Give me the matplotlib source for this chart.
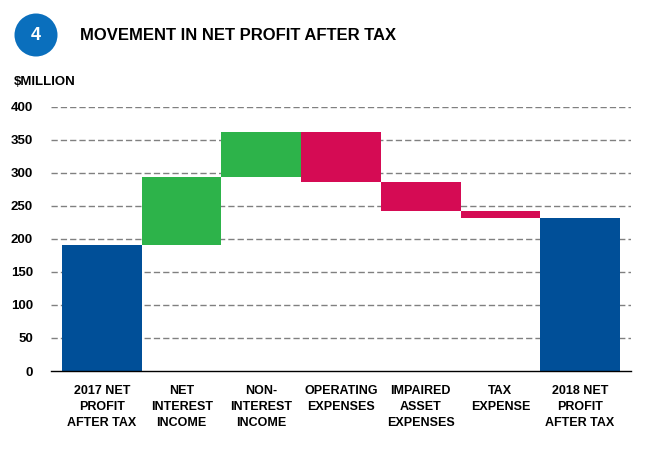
import matplotlib.pyplot as plt
from matplotlib.patches import Ellipse

plt.rcParams["font.family"] = ["Liberation Sans Narrow", "Liberation Sans", "DejaVu Sans"]
plt.rcParams["font.weight"] = "bold"

# Data ($ million)
categories = [
    "2017 NET\nPROFIT\nAFTER TAX",
    "NET\nINTEREST\nINCOME",
    "NON-\nINTEREST\nINCOME",
    "OPERATING\nEXPENSES",
    "IMPAIRED\nASSET\nEXPENSES",
    "TAX\nEXPENSE",
    "2018 NET\nPROFIT\nAFTER TAX",
]
start_value = 190
changes = [104, 67, -75, -44, -10]
y_ticks = [0, 50, 100, 150, 200, 250, 300, 350, 400]

BLUE = "#004f98"
GREEN = "#2db34a"
RED = "#d50b54"

# waterfall bottoms/heights
bottoms, heights, colors = [0], [start_value], [BLUE]
level = start_value
for c in changes:
    if c >= 0:
        bottoms.append(level)
        colors.append(GREEN)
    else:
        bottoms.append(level + c)
        colors.append(RED)
    heights.append(abs(c))
    level += c
bottoms.append(0)
heights.append(level)
colors.append(BLUE)

fig = plt.figure(figsize=(6.61, 4.53), dpi=100)
ax = fig.add_axes([51 / 661, 1 - 371 / 453, 580 / 661, 264.3 / 453])

x = list(range(len(categories)))
ax.bar(x, heights, bottom=bottoms, color=colors, width=1.0, linewidth=0)

ax.set_xlim(-0.64, 6.64)
ax.set_ylim(0, 400)
ax.set_yticks(y_ticks)
ax.set_yticklabels([str(t) for t in y_ticks], fontsize=9.5, fontweight="bold")
ax.set_xticks(x)
ax.set_xticklabels(categories, fontsize=9, fontweight="bold", linespacing=1.45)
ax.tick_params(axis="both", length=0)
ax.tick_params(axis="y", pad=13)
ax.tick_params(axis="x", pad=10)

for t in y_ticks[1:]:
    ax.axhline(t, color="#808080", linewidth=1, dashes=(4.5, 2.2), zorder=0)
ax.set_axisbelow(True)

for s in ["top", "right", "left"]:
    ax.spines[s].set_visible(False)
ax.spines["bottom"].set_color("black")
ax.spines["bottom"].set_linewidth(1)

# header
circ = Ellipse((36 / 661, 1 - 35 / 453), 43 / 661, 43 / 453, transform=fig.transFigure,
               facecolor="#0a6fbd", edgecolor="none")
fig.patches.append(circ)
fig.text(36 / 661, 1 - 36 / 453, "4", color="white", fontsize=13,
         fontweight="bold", ha="center", va="center")
fig.text(80 / 661, 1 - 36 / 453, "MOVEMENT IN NET PROFIT AFTER TAX",
         fontsize=12, fontweight="bold", ha="left", va="center")
fig.text(14 / 661, 1 - 82 / 453, "$MILLION", fontsize=9.5,
         fontweight="bold", ha="left", va="center")

fig.savefig("out.png", dpi=100)
